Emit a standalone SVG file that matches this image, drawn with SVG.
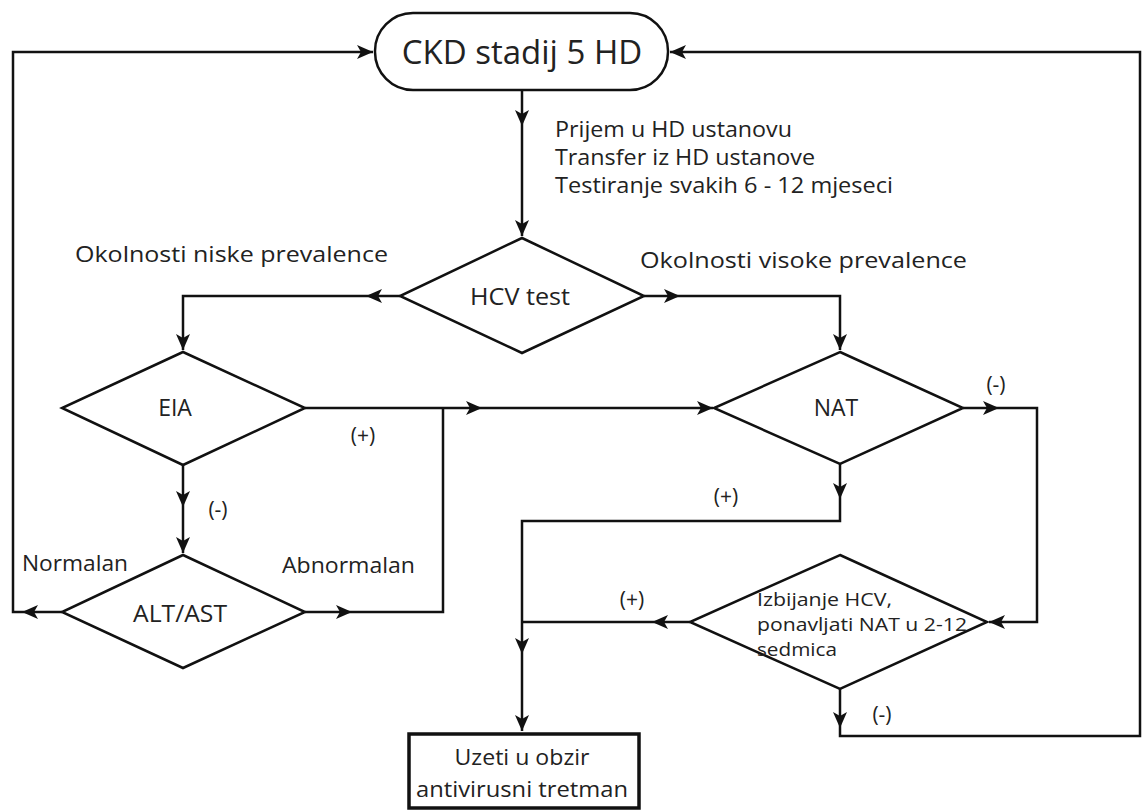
<svg xmlns="http://www.w3.org/2000/svg" width="1144" height="811" viewBox="0 0 1144 811">
<style>
.s{fill:#fff;stroke:#111;stroke-width:2.5}
.c{fill:none;stroke:#111;stroke-width:2.5}
.t{font-family:"Open Sans","Noto Sans",sans-serif;fill:#222}
</style>
<defs>
<marker id="a" markerUnits="userSpaceOnUse" markerWidth="18" markerHeight="16" refX="16" refY="7" orient="auto" viewBox="0 0 18 14">
<path d="M0,0 L16,7 L0,14 L4,7 z" fill="#111"/>
</marker>
</defs>
<rect width="1144" height="811" fill="#fff"/>
<g id="connectors">
<path class="c" d="M22 612 L13 612 L13 52 L373 52" marker-end="url(#a)"/>
<path class="c" d="M62 612 L22 612" marker-end="url(#a)"/>
<path class="c" d="M840 688 L840 728" marker-end="url(#a)"/>
<path class="c" d="M840 728 L840 736 L1140 736 L1140 52 L670 52" marker-end="url(#a)"/>
<path class="c" d="M522 90 L522 126" marker-end="url(#a)"/>
<path class="c" d="M522 126 L522 236" marker-end="url(#a)"/>
<path class="c" d="M400 296 L366 296" marker-end="url(#a)"/>
<path class="c" d="M366 296 L183 296 L183 350" marker-end="url(#a)"/>
<path class="c" d="M644 296 L680 296" marker-end="url(#a)"/>
<path class="c" d="M680 296 L840 296 L840 350" marker-end="url(#a)"/>
<path class="c" d="M305 408 L482 408" marker-end="url(#a)"/>
<path class="c" d="M482 408 L713 408" marker-end="url(#a)"/>
<path class="c" d="M305 612 L352 612" marker-end="url(#a)"/>
<path class="c" d="M352 612 L443 612 L443 408"/>
<path class="c" d="M183 465 L183 507" marker-end="url(#a)"/>
<path class="c" d="M183 507 L183 553" marker-end="url(#a)"/>
<path class="c" d="M963 408 L999 408" marker-end="url(#a)"/>
<path class="c" d="M999 408 L1037 408 L1037 622 L989 622" marker-end="url(#a)"/>
<path class="c" d="M840 463 L840 499" marker-end="url(#a)"/>
<path class="c" d="M840 499 L840 521 L522 521 L522 654" marker-end="url(#a)"/>
<path class="c" d="M522 654 L522 731" marker-end="url(#a)"/>
<path class="c" d="M690 622 L652 622" marker-end="url(#a)"/>
<path class="c" d="M652 622 L522 622"/>
</g>
<g id="ckd">
<rect class="s" x="375" y="13" width="293" height="77" rx="38"/>
<text class="t" x="522" y="64" font-size="33" text-anchor="middle">CKD stadij 5 HD</text>
</g>
<g id="label-top">
<text class="t" x="555" y="137" font-size="21" textLength="237" lengthAdjust="spacingAndGlyphs">Prijem u HD ustanovu</text>
<text class="t" x="555" y="165" font-size="21" textLength="260" lengthAdjust="spacingAndGlyphs">Transfer iz HD ustanove</text>
<text class="t" x="555" y="193" font-size="21" textLength="338" lengthAdjust="spacingAndGlyphs">Testiranje svakih 6 - 12 mjeseci</text>
</g>
<g id="hcv">
<polygon class="s" points="522,238 644,296 522,353 400,296"/>
<text class="t" x="470" y="305" font-size="23" textLength="100" lengthAdjust="spacingAndGlyphs">HCV test</text>
</g>
<g id="labels-prev">
<text class="t" x="75" y="262" font-size="21.5" textLength="313" lengthAdjust="spacingAndGlyphs">Okolnosti niske prevalence</text>
<text class="t" x="640" y="268" font-size="21.5" textLength="327" lengthAdjust="spacingAndGlyphs">Okolnosti visoke prevalence</text>
</g>
<g id="eia">
<polygon class="s" points="183,352 305,408 183,465 62,408"/>
<text class="t" x="175" y="416" font-size="23" text-anchor="middle">EIA</text>
</g>
<g id="alt">
<polygon class="s" points="183,555 305,612 183,668 62,612"/>
<text class="t" x="180" y="622" font-size="23" text-anchor="middle" textLength="94" lengthAdjust="spacingAndGlyphs">ALT/AST</text>
</g>
<g id="nat">
<polygon class="s" points="840,352 963,408 840,464 714,408"/>
<text class="t" x="836" y="416" font-size="23" text-anchor="middle">NAT</text>
</g>
<g id="izb">
<polygon class="s" points="840,555 987,622 840,689 690,622"/>
<text class="t" x="757" y="606" font-size="19" textLength="135" lengthAdjust="spacingAndGlyphs">Izbijanje HCV,</text>
<text class="t" x="757" y="631" font-size="19" textLength="210" lengthAdjust="spacingAndGlyphs">ponavljati NAT u 2-12</text>
<text class="t" x="757" y="656" font-size="19" textLength="80" lengthAdjust="spacingAndGlyphs">sedmica</text>
</g>
<g id="uzeti">
<rect x="409" y="734" width="230" height="74" fill="#fff" stroke="#111" stroke-width="3.5"/>
<text class="t" x="522" y="765" font-size="21.5" text-anchor="middle" textLength="135" lengthAdjust="spacingAndGlyphs">Uzeti u obzir</text>
<text class="t" x="522" y="797" font-size="21.5" text-anchor="middle" textLength="212" lengthAdjust="spacingAndGlyphs">antivirusni tretman</text>
</g>
<g id="edge-labels">
<text class="t" x="363" y="443" font-size="21" text-anchor="middle">(+)</text>
<text class="t" x="218" y="517" font-size="21" text-anchor="middle">(-)</text>
<text class="t" x="22" y="571" font-size="21" textLength="106" lengthAdjust="spacingAndGlyphs">Normalan</text>
<text class="t" x="282" y="573" font-size="21" textLength="133" lengthAdjust="spacingAndGlyphs">Abnormalan</text>
<text class="t" x="996" y="392" font-size="21" text-anchor="middle">(-)</text>
<text class="t" x="726" y="504" font-size="21" text-anchor="middle">(+)</text>
<text class="t" x="632" y="607" font-size="21" text-anchor="middle">(+)</text>
<text class="t" x="882" y="722" font-size="21" text-anchor="middle">(-)</text>
</g>
</svg>
